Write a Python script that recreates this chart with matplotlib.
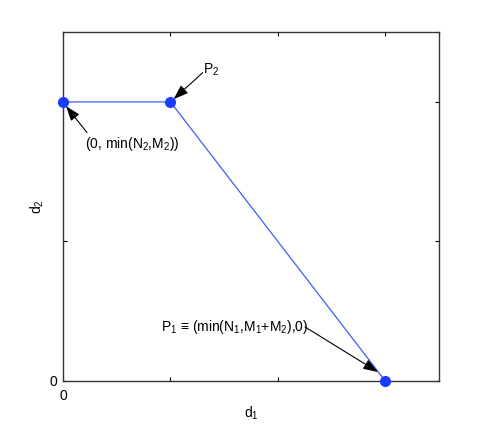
import numpy as np
import matplotlib
matplotlib.use("Agg")
import matplotlib.pyplot as plt

plt.rcParams["font.family"] = ["Liberation Sans", "DejaVu Sans"]
plt.rcParams["font.size"] = 10
plt.rcParams["mathtext.fontset"] = "custom"
plt.rcParams["mathtext.rm"] = "Liberation Sans"
plt.rcParams["mathtext.it"] = "Liberation Sans:italic"
plt.rcParams["mathtext.default"] = "regular"

# corner points of the region
d1 = [0, 1, 3]
d2 = [2, 2, 0]

xticks = [0, 1, 2, 3]
xticklabels = ["0", "", "", ""]
yticks = [0, 1, 2]
yticklabels = ["0", "", ""]

# (label, text pos, arrow tail, arrow head)
notes = [
    (r"P$_2$", (1.30, 2.23), (1.30, 2.21), (1.03, 2.02)),
    (r"(0, min(N$_2$,M$_2$))", (0.205, 1.70), (0.223, 1.78), (0.028, 1.97)),
    (r"P$_1$ ≡ (min(N$_1$,M$_1$+M$_2$),0)", (0.91, 0.387), (2.253, 0.387), (2.933, 0.064)),
]

fig = plt.figure(figsize=(4.85, 4.29), dpi=100)
ax = fig.add_axes([0.13, 0.112, 0.775, 0.813])

ax.plot(d1, d2, color="#3a5cff", lw=0.9, zorder=2)
ax.plot(d1, d2, "o", color="#1a3cff", ms=7, zorder=3, clip_on=False)

for label, tpos, tail, head in notes:
    ax.annotate("", xy=head, xytext=tail,
                arrowprops=dict(arrowstyle="-|>,head_length=0.9,head_width=0.32",
                                color="black", lw=0.8, shrinkA=0, shrinkB=0))
    ax.text(tpos[0], tpos[1], label, ha="left", va="center")

ax.set_xlim(0, 3.5)
ax.set_ylim(0, 2.5)
ax.set_xticks(xticks)
ax.set_xticklabels(xticklabels)
ax.set_yticks(yticks)
ax.set_yticklabels(yticklabels)
ax.tick_params(direction="in", length=3, width=0.8, top=True, right=True)
ax.tick_params(axis="x", pad=6)
ax.tick_params(axis="y", pad=4)
for s in ax.spines.values():
    s.set_linewidth(1.0)
    s.set_color("#333333")

ax.set_xlabel(r"d$_1$", labelpad=1)
ax.set_ylabel(r"d$_2$", labelpad=3)

plt.savefig("out.png", dpi=100)
